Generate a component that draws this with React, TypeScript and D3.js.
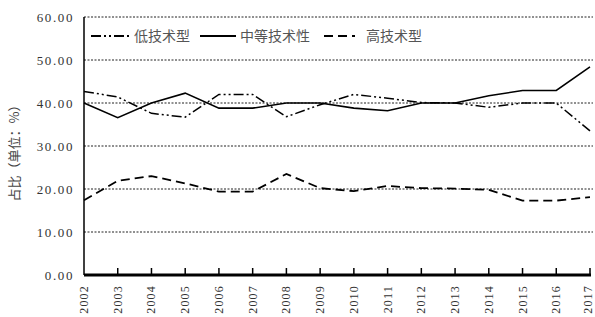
import React, { useEffect, useRef } from 'react';
import * as d3 from 'd3';

const years = ['2002', '2003', '2004', '2005', '2006', '2007', '2008', '2009', '2010', '2011', '2012', '2013', '2014', '2015', '2016', '2017'];
const lowTech = [42.7, 41.4, 37.6, 36.7, 42.0, 42.0, 36.8, 39.6, 42.0, 41.1, 40.1, 40.0, 39.0, 40.0, 40.0, 33.5];
const midTech = [40.0, 36.6, 40.0, 42.3, 38.8, 38.8, 40.0, 40.0, 38.8, 38.2, 40.0, 40.0, 41.7, 42.9, 42.9, 48.4];
const highTech = [17.4, 21.9, 23.0, 21.3, 19.4, 19.4, 23.5, 20.2, 19.5, 20.7, 20.2, 20.1, 19.8, 17.3, 17.3, 18.1];
const yTicks = [0, 10, 20, 30, 40, 50, 60];

const series = [
  { name: '低技术型', values: lowTech, dash: '10,3,2,3,2,3', width: 1.5 },
  { name: '中等技术性', values: midTech, dash: null, width: 1.6 },
  { name: '高技术型', values: highTech, dash: '9,5', width: 1.8 },
];

const App: React.FC = () => {
  const svgRef = useRef<SVGSVGElement>(null);

  useEffect(() => {
    if (!svgRef.current) return;
    const svg = d3.select(svgRef.current);
    svg.selectAll('*').remove();

    const left = 84, right = 590, top = 17, bottom = 275;
    const x = d3.scalePoint<string>().domain(years).range([left, right]);
    const y = d3.scaleLinear().domain([0, 60]).range([bottom, top]);

    // grid
    svg.append('g')
      .selectAll('line')
      .data(yTicks.filter(d => d > 0))
      .join('line')
      .attr('x1', left).attr('x2', 593)
      .attr('y1', d => y(d)).attr('y2', d => y(d))
      .attr('stroke', '#222')
      .attr('stroke-width', 1)
      .attr('stroke-dasharray', '2,1.5');

    // y tick labels
    svg.append('g')
      .style('font', '13px "Liberation Serif", serif')
      .attr('fill', '#333')
      .attr('text-anchor', 'end')
      .selectAll('text')
      .data(yTicks)
      .join('text')
      .attr('x', 74)
      .attr('y', d => y(d) + 4.5)
      .attr('letter-spacing', 1.6)
      .text(d => d.toFixed(2));

    // y axis label
    svg.append('text')
      .attr('transform', 'translate(19,150) rotate(-90)')
      .attr('text-anchor', 'middle')
      .attr('fill', '#444')
      .style('font', '13px "Noto Sans CJK SC", sans-serif')
      .text('占比（单位：%）');

    // lines
    const line = d3.line<number>()
      .x((_, i) => x(years[i]) as number)
      .y(d => y(d));

    svg.append('g')
      .selectAll('path')
      .data(series)
      .join('path')
      .attr('d', d => line(d.values))
      .attr('fill', 'none')
      .attr('stroke', '#000')
      .attr('stroke-width', d => d.width)
      .attr('stroke-dasharray', d => d.dash);

    // axes
    svg.append('line')
      .attr('x1', left).attr('x2', left)
      .attr('y1', top).attr('y2', bottom)
      .attr('stroke', '#000').attr('stroke-width', 1.5);
    svg.append('line')
      .attr('x1', left).attr('x2', right + 1)
      .attr('y1', bottom).attr('y2', bottom)
      .attr('stroke', '#000').attr('stroke-width', 3);
    svg.append('g')
      .selectAll('line')
      .data(years.slice(1))
      .join('line')
      .attr('x1', d => x(d) as number).attr('x2', d => x(d) as number)
      .attr('y1', bottom - 7).attr('y2', bottom)
      .attr('stroke', '#000').attr('stroke-width', 1.5);

    // x tick labels (last one nudged so it stays inside the frame)
    svg.append('g')
      .style('font', '12px "Liberation Serif", serif')
      .attr('fill', '#333')
      .attr('text-anchor', 'end')
      .selectAll('text')
      .data(years)
      .join('text')
      .attr('transform', d => `translate(${Math.min((x(d) as number) + 4, 592)},285) rotate(-90)`)
      .attr('letter-spacing', 1.2)
      .text(d => d);

    // legend
    const legend = svg.append('g')
      .style('font', '14px "Noto Sans CJK SC", sans-serif');
    const items = [
      { s: series[0], x0: 91, x1: 131, tx: 134 },
      { s: series[1], x0: 200, x1: 236, tx: 240 },
      { s: series[2], x0: 324, x1: 355, tx: 366 },
    ];
    items.forEach(it => {
      legend.append('line')
        .attr('x1', it.x0).attr('x2', it.x1)
        .attr('y1', 36).attr('y2', 36)
        .attr('stroke', '#000')
        .attr('stroke-width', 1.8)
        .attr('stroke-dasharray', it.s.dash);
      legend.append('text')
        .attr('x', it.tx).attr('y', 41)
        .attr('fill', '#555')
        .text(it.s.name);
    });
  }, []);

  return (
    <svg ref={svgRef} width={595} height={317}
      style={{ position: 'absolute', left: 0, top: 0, background: '#fff' }} />
  );
};

export default App;
